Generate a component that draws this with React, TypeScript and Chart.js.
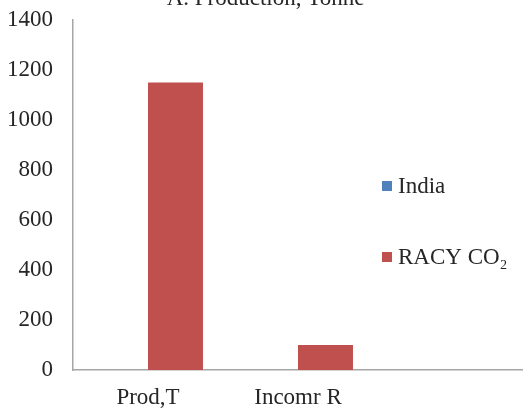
import React, { useEffect, useRef } from "react";
import { Chart, registerables } from "chart.js";

Chart.register(...registerables);

const categories = ["Prod,T", "Incomr R", ""];
const indiaValues = [0, 0, null];
const racyValues = [1150, 100, null];
const seriesNames = ["India", "RACY CO₂"];
const yTicks = [0, 200, 400, 600, 800, 1000, 1200, 1400];
const titleText = "A. Production, Tonne";

const FONT = "'Liberation Serif', 'Times New Roman', serif";
const TEXT = "#262626";
const FS = 23;

const overlayPlugin = {
  id: "overlay",
  afterDraw(chart: any) {
    const ctx = chart.ctx;
    const area = chart.chartArea;
    ctx.save();
    ctx.font = `${FS}px ${FONT}`;
    ctx.fillStyle = TEXT;
    ctx.textAlign = "center";
    ctx.textBaseline = "alphabetic";
    ctx.fillText(titleText, chart.width / 2 + 4, 5);
    const rows = [166, 237];
    chart.data.datasets.forEach((ds: any, i: number) => {
      const cy = area.top + rows[i];
      ctx.fillStyle = ds.backgroundColor;
      ctx.fillRect(area.left + 309, cy - 5, 10, 10);
      ctx.fillStyle = TEXT;
      ctx.textAlign = "left";
      ctx.textBaseline = "middle";
      ctx.fillText(ds.label, area.left + 325, cy + 1);
    });
    ctx.restore();
  },
};

export default function App() {
  const ref = useRef<HTMLCanvasElement | null>(null);
  useEffect(() => {
    if (!ref.current) return;
    const chart = new Chart(ref.current, {
      type: "bar",
      data: {
        labels: categories,
        datasets: [
          { label: seriesNames[0], data: indiaValues as any, backgroundColor: "#4F81BD", borderWidth: 0 },
          { label: seriesNames[1], data: racyValues as any, backgroundColor: "#C0504D", borderWidth: 0 },
        ],
      },
      options: {
        animation: false,
        responsive: true,
        maintainAspectRatio: false,
        datasets: { bar: { categoryPercentage: 0.733, barPercentage: 1 } },
        layout: { padding: { top: 20, left: 0, right: 0, bottom: 0 } },
        plugins: { legend: { display: false }, title: { display: false }, tooltip: { enabled: false } },
        scales: {
          x: {
            afterFit: (scale: any) => {
              scale.height = 42;
              scale.paddingLeft = 0;
              scale.paddingRight = 0;
            },
            grid: { display: false, drawTicks: false },
            border: { display: true, color: "#a6a6a6", width: 1.5 },
            ticks: { color: TEXT, font: { family: FONT, size: FS }, padding: 14, maxRotation: 0, autoSkip: false },
          },
          y: {
            min: 0,
            max: 1400,
            afterBuildTicks: (axis: any) => {
              axis.ticks = yTicks.map((v) => ({ value: v }));
            },
            afterFit: (scale: any) => {
              scale.width = 73;
              scale.paddingTop = 0;
              scale.paddingBottom = 0;
            },
            grid: { display: false, drawTicks: false },
            border: { display: true, color: "#a6a6a6", width: 1.5 },
            ticks: { color: TEXT, font: { family: FONT, size: FS }, padding: 20, callback: (v: any) => String(v) },
          },
        },
      },
      plugins: [overlayPlugin],
    });
    return () => chart.destroy();
  }, []);
  return (
    <div style={{ position: "fixed", top: 0, left: 0, width: 523, height: 412, background: "#fff" }}>
      <canvas ref={ref} />
    </div>
  );
}
